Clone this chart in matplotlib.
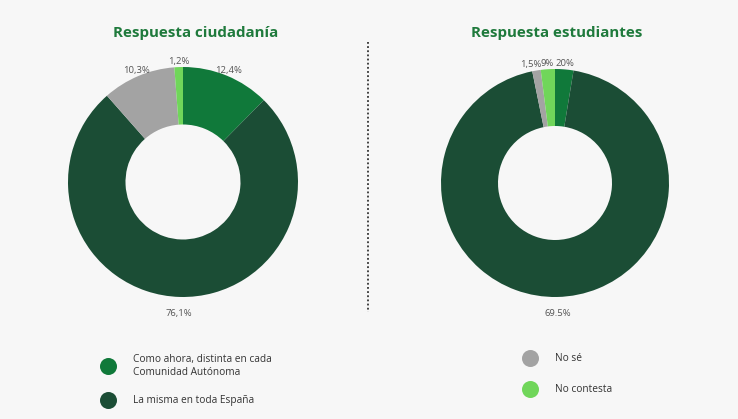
import matplotlib.pyplot as plt

plt.rcParams['font.family'] = ['Open Sans', 'DejaVu Sans']

# categories and colours
categories = ["Como ahora, distinta en cada\nComunidad Autónoma",
              "La misma en toda España", "No sé", "No contesta"]
colors = ["#10793a", "#1b4d35", "#a3a3a3", "#70d65a"]

# ciudadanía
citizen_values = [12.4, 76.1, 10.3, 1.2]
citizen_labels = ["12,4%", "76,1%", "10,3%", "1,2%"]

# estudiantes (wedge sizes, labels as printed)
student_values = [2.6, 94.2, 1.2, 2.0]
student_labels = ["20%", "69.5%", "1,5%", "9%"]

W, H = 738, 419
fig = plt.figure(figsize=(W / 100, H / 100), dpi=100)
fig.patch.set_facecolor("#f7f7f7")

BOX = 300  # axes box in px


def donut(cx, cy, radius_px, values, labels):
    ax = fig.add_axes([(cx - BOX / 2) / W, 1 - (cy + BOX / 2) / H, BOX / W, BOX / H])
    wedges, texts = ax.pie(values, colors=colors, startangle=90, counterclock=False,
                           radius=1, labels=labels, labeldistance=1.05,
                           wedgeprops=dict(width=0.5, linewidth=0),
                           textprops=dict(fontsize=6.8, color="#555555"))
    for t in texts:
        t.set_ha("center")
        t.set_va("center")
        x, y = t.get_position()
        if y < 0:  # labels under the ring sit a bit further out
            t.set_position((x * 1.09, y * 1.09))
    lim = BOX / 2 / radius_px
    ax.set_xlim(-lim, lim)
    ax.set_ylim(-lim, lim)
    ax.set_aspect("equal")
    ax.axis("off")
    return ax, texts


donut(183, 182, 115, citizen_values, citizen_labels)
ax_s, texts_s = donut(555, 183, 114, student_values, student_labels)
# keep the crowded small labels apart
x, y = texts_s[2].get_position()
texts_s[2].set_position((x - 0.045, y))

title_style = dict(ha="center", va="center", fontsize=10.9, fontweight="bold", color="#1f7a3c")
fig.text(196 / W, 1 - 33 / H, "Respuesta ciudadanía", **title_style)
fig.text(557 / W, 1 - 33 / H, "Respuesta estudiantes", **title_style)

# overlay for separator and legend
ov = fig.add_axes([0, 0, 1, 1])
ov.set_xlim(0, W)
ov.set_ylim(H, 0)
ov.axis("off")
ov.patch.set_alpha(0)
ov.plot([368, 368], [42, 312], color="#333333", linestyle=(0, (1, 1.3)), linewidth=1.3)

legend_pos = [(108, 366), (108, 400), (530, 358), (530, 389)]
for (x, y), lab, c in zip(legend_pos, categories, colors):
    ov.scatter([x], [y], s=150, color=c, linewidths=0)
    ov.text(x + 25, y, lab, ha="left", va="center", fontsize=7.3, color="#333333",
            linespacing=1.35)

fig.savefig("out.png", dpi=100, facecolor=fig.get_facecolor())
